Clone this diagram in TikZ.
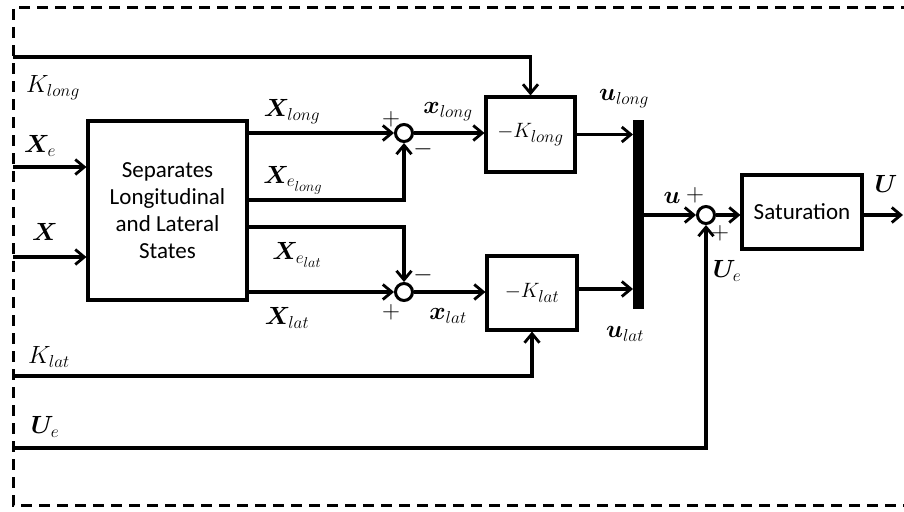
\documentclass[tikz,border=0pt]{standalone}
\usepackage{amsmath,bm}
\usepackage{fontspec}
\newfontfamily\boxfont{Carlito}
\DeclareMathSizes{24}{24}{18}{14}
\DeclareMathSizes{22}{22}{16}{12}
\DeclareMathSizes{28}{28}{20}{14}
\usetikzlibrary{arrows.meta}
\begin{document}
\begin{tikzpicture}[x=1pt,y=-1pt,
  line width=3.1pt,
  arr/.style={-{Straight Barb[length=9pt,width=15pt,line width=2.8pt]}},
  blk/.style={draw,line width=3.1pt,inner sep=0pt,align=center,font=\boxfont\fontsize{23}{27}\selectfont},
  sumc/.style={draw,circle,line width=3pt,minimum size=17pt,inner sep=0pt},
  lbl/.style={font=\fontsize{24}{28}\selectfont,inner sep=0pt},
  sgn/.style={font=\fontsize{28}{30}\selectfont,inner sep=0pt},
]
\useasboundingbox (0,0) rectangle (904,511);
\draw[dash pattern=on 11pt off 7pt, line width=3pt] (930,8) -- (13,8) -- (13,505) -- (930,505);

% blocks
\node[blk,minimum width=159pt,minimum height=179pt] (sep) at (167.5,210.5) {Separates\\Longitudinal\\and Lateral\\States};
\node[blk,minimum width=89pt,minimum height=75pt,font=\fontsize{22}{24}\selectfont] (kl) at (530.5,134.5) {$-K_{long}$};
\node[blk,minimum width=90pt,minimum height=74pt,font=\fontsize{22}{24}\selectfont] (kt) at (532,293) {$-K_{lat}$};
\node[draw,fill=black,line width=0pt,minimum width=10pt,minimum height=188pt,inner sep=0pt] (bar) at (638,214) {};
\node[blk,minimum width=120pt,minimum height=74pt] (sat) at (802,212) {Saturation};
\node[sumc] (s1) at (404,133) {};
\node[sumc] (s2) at (404,292) {};
\node[sumc] (s3) at (706,215) {};

% inputs
\coordinate (kin) at (13,57);
\coordinate (xein) at (13,167);
\coordinate (xin) at (13,257);
\coordinate (klatin) at (13,376);
\coordinate (uein) at (13,448);
\coordinate (yel) at (0,200);
\coordinate (yet) at (0,227);
\coordinate (uout) at (903,215);

\draw[arr] (kin) -| (kl.north);
\draw[arr] (xein) -- (sep.west |- xein);
\draw[arr] (xin) -- (sep.west |- xin);
\draw[arr] (sep.east |- s1) -- (s1);
\draw[arr] (sep.east |- yel) -| (s1);
\draw[arr] (sep.east |- yet) -| (s2);
\draw[arr] (sep.east |- s2) -- (s2);
\draw[arr] (s1) -- (kl.west |- s1);
\draw[arr] (s2) -- (kt.west |- s2);
\draw[arr] (kl.east) -- (kl.east -| bar.west);
\draw[arr] ([yshift=4pt]kt.east) -- ([yshift=4pt]kt.east -| bar.west);
\draw[arr] (bar.east |- s3) -- (s3);
\draw[arr] (s3) -- (sat.west |- s3);
\draw[arr] (sat.east |- s3) -- (uout);
\draw[arr] (klatin) -| (kt.south);
\draw[arr] (uein) -| (s3);

% labels
\node[lbl] (lkl) at (53,88) {$K_{long}$};
\node[lbl] (lxe) at (40,146) {$\boldsymbol{X}_e$};
\node[lbl] (lx) at (45,232) {$\boldsymbol{X}$};
\node[lbl] (lxl) at (292,112) {$\boldsymbol{X}_{long}$};
\node[lbl] (lxel) at (293,180) {$\boldsymbol{X}_{e_{long}}$};
\node[lbl] (lxet) at (297,255) {$\boldsymbol{X}_{e_{lat}}$};
\node[lbl] (lxt) at (287,318) {$\boldsymbol{X}_{lat}$};
\node[lbl] (lsl) at (448,112) {$\boldsymbol{x}_{long}$};
\node[lbl] (lst) at (448,316) {$\boldsymbol{x}_{lat}$};
\node[lbl] (lul) at (624,99) {$\boldsymbol{u}_{long}$};
\node[lbl] (lut) at (625,334) {$\boldsymbol{u}_{lat}$};
\node[lbl] (lu) at (672,198) {$\boldsymbol{u}$};
\node[lbl] (lue) at (727,271) {$\boldsymbol{U}_e$};
\node[lbl] (lU) at (886,184) {$\boldsymbol{U}$};
\node[lbl] (lklat) at (49,357) {$K_{lat}$};
\node[lbl] (luein) at (45,427) {$\boldsymbol{U}_e$};

% signs
\node[sgn] (p1) at (391,119) {$+$};
\node[sgn] (m1) at (423,149) {$-$};
\node[sgn] (m2) at (423,275) {$-$};
\node[sgn] (p2) at (391,312) {$+$};
\node[sgn] (p3) at (695,195) {$+$};
\node[sgn] (p4) at (720,233) {$+$};
\end{tikzpicture}
\end{document}
